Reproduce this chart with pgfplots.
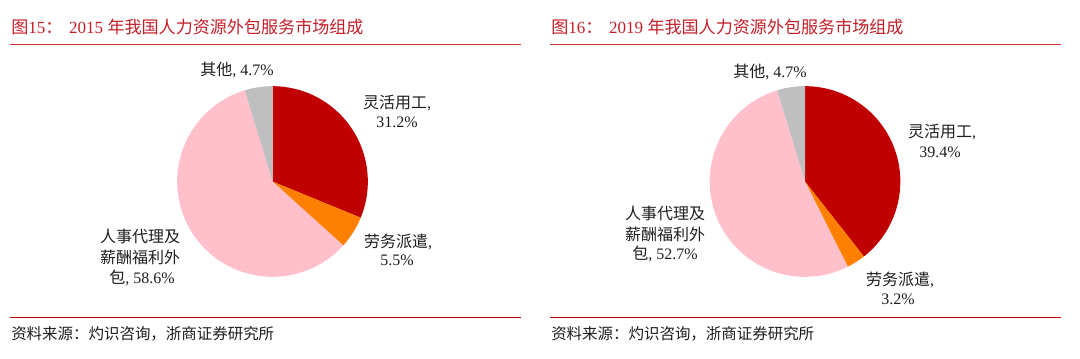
\documentclass[border=0pt]{standalone}
\usepackage{fontspec}
\setmainfont{Liberation Serif}
\newfontfamily\cjk{Noto Sans CJK SC}[Scale=1.0]
\usepackage{pgfplots}
\pgfplotsset{compat=1.18}
\definecolor{cA}{RGB}{192,0,0}
\definecolor{cB}{RGB}{255,128,0}
\definecolor{cC}{RGB}{255,192,203}
\definecolor{cD}{RGB}{191,191,191}
\definecolor{titlered}{RGB}{196,30,40}
\definecolor{linetop}{RGB}{208,48,48}
\definecolor{linebot}{RGB}{200,0,0}
\definecolor{txt}{RGB}{30,30,30}
% slice: start(%) value(%) colour
\newcommand\slice[3]{\addplot[draw=none, fill=#3, domain=90-3.6*(#1+#2):90-3.6*#1, samples=90, variable=\t] ({cos(\t)},{sin(\t)}) -- (axis cs:0,0) -- cycle;}
\newcommand\lab[2]{\node[txt, font=\fontsize{12pt}{14pt}\selectfont, anchor=center] at (#1) {#2};}
\begin{document}
\begin{tikzpicture}[x=0.75pt, y=-0.75pt]
\useasboundingbox (0,0) rectangle (1080,358);
\coordinate (P1) at (272.5,181.5);
\coordinate (P2) at (805,181.5);
% titles
\node[anchor=base west, inner sep=0pt, text=titlered, font=\fontsize{12.8pt}{15pt}\selectfont] at (11,33) {{\cjk 图}15{\cjk ：}\hspace{5pt}2015 {\cjk 年我国人力资源外包服务市场组成}};
\node[anchor=base west, inner sep=0pt, text=titlered, font=\fontsize{12.8pt}{15pt}\selectfont] at (551,33) {{\cjk 图}16{\cjk ：}\hspace{5pt}2019 {\cjk 年我国人力资源外包服务市场组成}};
\draw[linetop, line width=1.2pt] (10,44.5) -- (521,44.5);
\draw[linetop, line width=1.2pt] (550,44.5) -- (1061,44.5);
\draw[linebot, line width=1.3pt] (10,317.5) -- (521,317.5);
\draw[linebot, line width=1.3pt] (550,317.5) -- (1061,317.5);
\node[anchor=base west, inner sep=0pt, text=txt, font=\fontsize{11.6pt}{13pt}\selectfont] at (11,339) {\cjk 资料来源：灼识咨询，浙商证券研究所};
\node[anchor=base west, inner sep=0pt, text=txt, font=\fontsize{11.6pt}{13pt}\selectfont] at (551,339) {\cjk 资料来源：灼识咨询，浙商证券研究所};
% 2015 pie
\begin{axis}[at={(P1)}, anchor=center, hide axis, scale only axis, width=143pt, height=143pt, xmin=-1, xmax=1, ymin=-1, ymax=1, clip=false]
\slice{0}{31.2}{cA}
\slice{31.2}{5.5}{cB}
\slice{36.7}{58.6}{cC}
\slice{95.3}{4.7}{cD}
\end{axis}
% 2019 pie
\begin{axis}[at={(P2)}, anchor=center, hide axis, scale only axis, width=143pt, height=143pt, xmin=-1, xmax=1, ymin=-1, ymax=1, clip=false]
\slice{0}{39.4}{cA}
\slice{39.4}{3.2}{cB}
\slice{42.6}{52.7}{cC}
\slice{95.3}{4.7}{cD}
\end{axis}
% labels 2015
\lab{237,70}{{\cjk 其他}, 4.7\%}
\lab{397,103}{{\cjk 灵活用工}, }
\lab{397,122}{31.2\%}
\lab{398,242}{{\cjk 劳务派遣}, }
\lab{397,260}{5.5\%}
\lab{140,236}{\cjk 人事代理及}
\lab{140,257}{\cjk 薪酬福利外}
\lab{142,278}{{\cjk 包}, 58.6\%}
% labels 2019
\lab{770,72}{{\cjk 其他}, 4.7\%}
\lab{942,132}{{\cjk 灵活用工}, }
\lab{940,152}{39.4\%}
\lab{900,280}{{\cjk 劳务派遣}, }
\lab{898,299}{3.2\%}
\lab{665,213}{\cjk 人事代理及}
\lab{665,234}{\cjk 薪酬福利外}
\lab{665,254}{{\cjk 包}, 52.7\%}
\end{tikzpicture}
\end{document}
